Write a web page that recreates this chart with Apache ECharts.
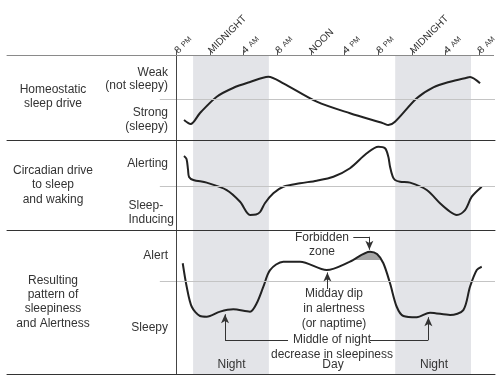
<!DOCTYPE html>
<html>
<head>
<meta charset="utf-8">
<script src="https://cdn.jsdelivr.net/npm/echarts@6/dist/echarts.min.js"></script>
<style>html,body{margin:0;padding:0;background:#fff}#c{width:500px;height:380px}</style>
</head>
<body>
<div id="c"></div>
<script>
// Hours after 8 PM on day 1 (0 = 8 PM, 36 = 8 AM two days later)
const hourTicks = [0, 4, 8, 12, 16, 20, 24, 28, 32, 36];
const tickLabels = ['8 PM', 'MIDNIGHT', '4 AM', '8 AM', 'NOON', '4 PM', '8 PM', 'MIDNIGHT', '4 AM', '8 AM'];
const nightSpans = [[2, 11], [26, 35]];

// Panel levels, 0 = bottom of panel, 100 = top of panel
const homeostatic = [[0.86,23.5],[1.65,18.8],[2.76,31.8],[4.74,50.9],[6.67,61.2],[8.68,68.2],[10.85,74.5],[12.62,66.7],[16.58,45.1],[20.52,31.4],[24.47,19.6],[25.06,17.6],[25.85,21.5],[28.42,49.1],[30.39,62.0],[32.37,68.6],[34.34,73.3],[34.73,74.1],[35.92,66.7]];
const circadian = [[0.86,82.2],[1.16,78.9],[1.34,66.7],[1.46,58.9],[1.97,55.6],[3.55,52.6],[5.92,44.4],[7.50,31.4],[8.68,16.7],[9.39,17.2],[9.87,20.0],[10.46,30.0],[11.44,40.8],[12.62,48.1],[14.60,51.9],[16.58,54.8],[18.55,59.2],[20.52,68.6],[22.50,85.2],[23.88,92.6],[24.67,90.8],[25.06,81.4],[25.26,70.3],[25.58,59.2],[25.85,55.6],[26.45,53.7],[27.63,52.6],[29.61,44.4],[31.18,29.7],[32.37,20.3],[33.16,16.7],[34.14,22.2],[34.94,37.0],[36.12,48.1]];
const resulting = [[0.71,76.9],[1.18,60.6],[1.78,46.7],[2.76,40.3],[3.55,39.8],[5.13,43.3],[6.70,44.9],[8.68,43.3],[9.47,49.1],[10.26,60.6],[11.05,72.2],[12.62,78.0],[14.60,78.0],[17.76,72.2],[20.52,78.0],[22.89,84.9],[23.72,83.3],[24.47,76.9],[25.26,63.0],[26.05,46.7],[26.84,40.3],[28.42,39.4],[30.0,42.6],[32.37,41.0],[33.94,44.4],[34.73,60.6],[35.53,72.2],[36.12,74.5]];
const forbidden = [[20.9,79.2],[21.6,81.8],[22.3,84.0],[22.89,84.9],[23.72,83.3],[24.1,79.2]];
const forbiddenBase = 79.2;
const midlines = [48.2, 48.1, 64.6];
// annotation leader lines in panel 3 (hours, level); true = arrow at end
const leaders = [
  [[20.91,95.3],[22.81,95.3],false],
  [[22.81,95.3],[22.81,86.3],true],
  [[17.84,59.0],[17.84,70.5],true],
  [[13.18,23.6],[5.72,23.6],false],
  [[5.72,23.6],[5.72,41.5],true],
  [[22.89,23.6],[29.8,23.6],false],
  [[29.8,23.6],[29.8,39.4],true]
];

const FONT = "'Liberation Sans', Arial, sans-serif";
const XMIN = -20.1, XMAX = 37.69;
const txt = '#333';

const chart = echarts.init(document.getElementById('c'), null, {renderer: 'canvas'});

function hx(gridIndex, showLine, color) {
  return {
    type: 'value', gridIndex, min: XMIN, max: XMAX, position: 'bottom', z: 5,
    axisLine: {show: showLine, onZero: false, lineStyle: {color: color || '#333', width: 1}},
    axisTick: {show: false}, axisLabel: {show: false}, splitLine: {show: false}
  };
}
function hy(gridIndex) {
  return {type: 'value', gridIndex, min: 0, max: 100, show: false};
}
function midline(v) {
  return {
    silent: true, symbol: ['none', 'none'], label: {show: false},
    lineStyle: {color: '#c4c4c4', width: 1, type: 'solid'},
    data: [[{coord: [-2, v]}, {coord: [XMAX, v]}]]
  };
}
function curve(idx, data, extra) {
  return Object.assign({
    type: 'line', xAxisIndex: idx, yAxisIndex: idx, data, smooth: 0.3,
    showSymbol: false, symbol: 'none', z: 4,
    lineStyle: {color: '#222', width: 2}
  }, extra || {});
}

const texts = [
  {x: 53, y: 96.7, text: 'Homeostatic\nsleep drive', align: 'center', lh: 13.5},
  {x: 168, y: 79.3, text: 'Weak\n(not sleepy)', align: 'right', lh: 13.5},
  {x: 168, y: 119.5, text: 'Strong\n(sleepy)', align: 'right', lh: 14.5},
  {x: 53, y: 184.7, text: 'Circadian drive\nto sleep\nand waking', align: 'center', lh: 14.5},
  {x: 168, y: 163.3, text: 'Alerting', align: 'right', lh: 14},
  {x: 128.5, y: 213, text: 'Sleep-\nInducing', align: 'left', lh: 14},
  {x: 53, y: 302, text: 'Resulting\npattern of\nsleepiness\nand Alertness', align: 'center', lh: 14.2},
  {x: 168, y: 256, text: 'Alert', align: 'right', lh: 14},
  {x: 168, y: 328, text: 'Sleepy', align: 'right', lh: 14},
  {x: 231.5, y: 365, text: 'Night', align: 'center', lh: 14},
  {x: 333, y: 365, text: 'Day', align: 'center', lh: 14},
  {x: 434, y: 365, text: 'Night', align: 'center', lh: 14},
  {x: 322, y: 244.5, text: 'Forbidden\nzone', align: 'center', lh: 14.4},
  {x: 334, y: 308.7, text: 'Midday dip\nin alertness\n(or naptime)', align: 'center', lh: 14.7},
  {x: 332, y: 347.5, text: 'Middle of night\ndecrease in sleepiness', align: 'center', lh: 15}
];

const option = {
  animation: false,
  backgroundColor: '#fff',
  textStyle: {fontFamily: FONT},
  grid: [
    {left: 7, right: 5, top: 55, bottom: 6},
    {left: 7, right: 5, top: 55, height: 85},
    {left: 7, right: 5, top: 140, height: 90},
    {left: 7, right: 5, top: 230, height: 144}
  ],
  xAxis: [
    {
      type: 'value', gridIndex: 0, min: XMIN, max: XMAX, position: 'top', z: 5,
      axisLine: {show: true, onZero: false, lineStyle: {color: '#8a8a8a', width: 1}},
      axisTick: {show: true, customValues: hourTicks, length: 5, lineStyle: {color: '#555'}},
      axisLabel: {
        show: true, customValues: hourTicks, rotate: -45, margin: 3, color: txt, hideOverlap: false,
        formatter: function (v) {
          const s = tickLabels[Math.round(v / 4)] || '';
          const p = s.split(' ');
          if (p.length === 2) return '{n|' + p[0] + '} {s|' + p[1] + '}';
          return '{n|' + s + '}';
        },
        rich: {
          n: {fontSize: 10, fontFamily: FONT, color: txt},
          s: {fontSize: 7.5, fontFamily: FONT, color: txt}
        }
      },
      splitLine: {show: false}
    },
    hx(1, true), hx(2, true), hx(3, true)
  ],
  yAxis: [
    {type: 'value', gridIndex: 0, min: 0, max: 1, position: 'right', z: 5,
     axisLine: {show: true, lineStyle: {color: '#444'}}, axisTick: {show: false},
     axisLabel: {show: false}, splitLine: {show: false}},
    hy(1), hy(2), hy(3)
  ],
  series: [
    {
      type: 'line', xAxisIndex: 0, yAxisIndex: 0, data: [[0, 0]], showSymbol: false, symbol: 'none',
      lineStyle: {opacity: 0}, z: 1, silent: true,
      markArea: {
        silent: true, itemStyle: {color: '#e3e4e8'},
        data: nightSpans.map(s => [{xAxis: s[0]}, {xAxis: s[1]}])
      }
    },
    curve(1, homeostatic, {markLine: midline(midlines[0])}),
    curve(2, circadian, {markLine: midline(midlines[1])}),
    curve(3, forbidden, {
      z: 3, lineStyle: {width: 0, color: '#a6a6a6'},
      areaStyle: {color: '#a6a6a6', opacity: 1, origin: forbiddenBase}
    }),
    curve(3, resulting, {
      markLine: midline(midlines[2])
    }),
    {
      type: 'line', xAxisIndex: 3, yAxisIndex: 3, data: [], z: 5, silent: true,
      markLine: {
        silent: true, symbol: ['none', 'none'], symbolSize: [6, 9], label: {show: false},
        lineStyle: {color: '#333', width: 1, type: 'solid'},
        data: leaders.map(l => [
          {coord: l[0], symbol: 'none'},
          {coord: l[1], symbol: l[2] ? 'arrow' : 'none', symbolSize: [6, 9]}
        ])
      }
    }
  ],
  graphic: texts.map(t => ({
    type: 'text', x: t.x, y: t.y, z: 10, silent: true,
    style: {
      text: t.text, fill: txt, fontSize: 12, fontFamily: FONT,
      align: t.align, verticalAlign: 'middle', lineHeight: t.lh
    }
  }))
};
chart.setOption(option);
</script>
</body>
</html>
